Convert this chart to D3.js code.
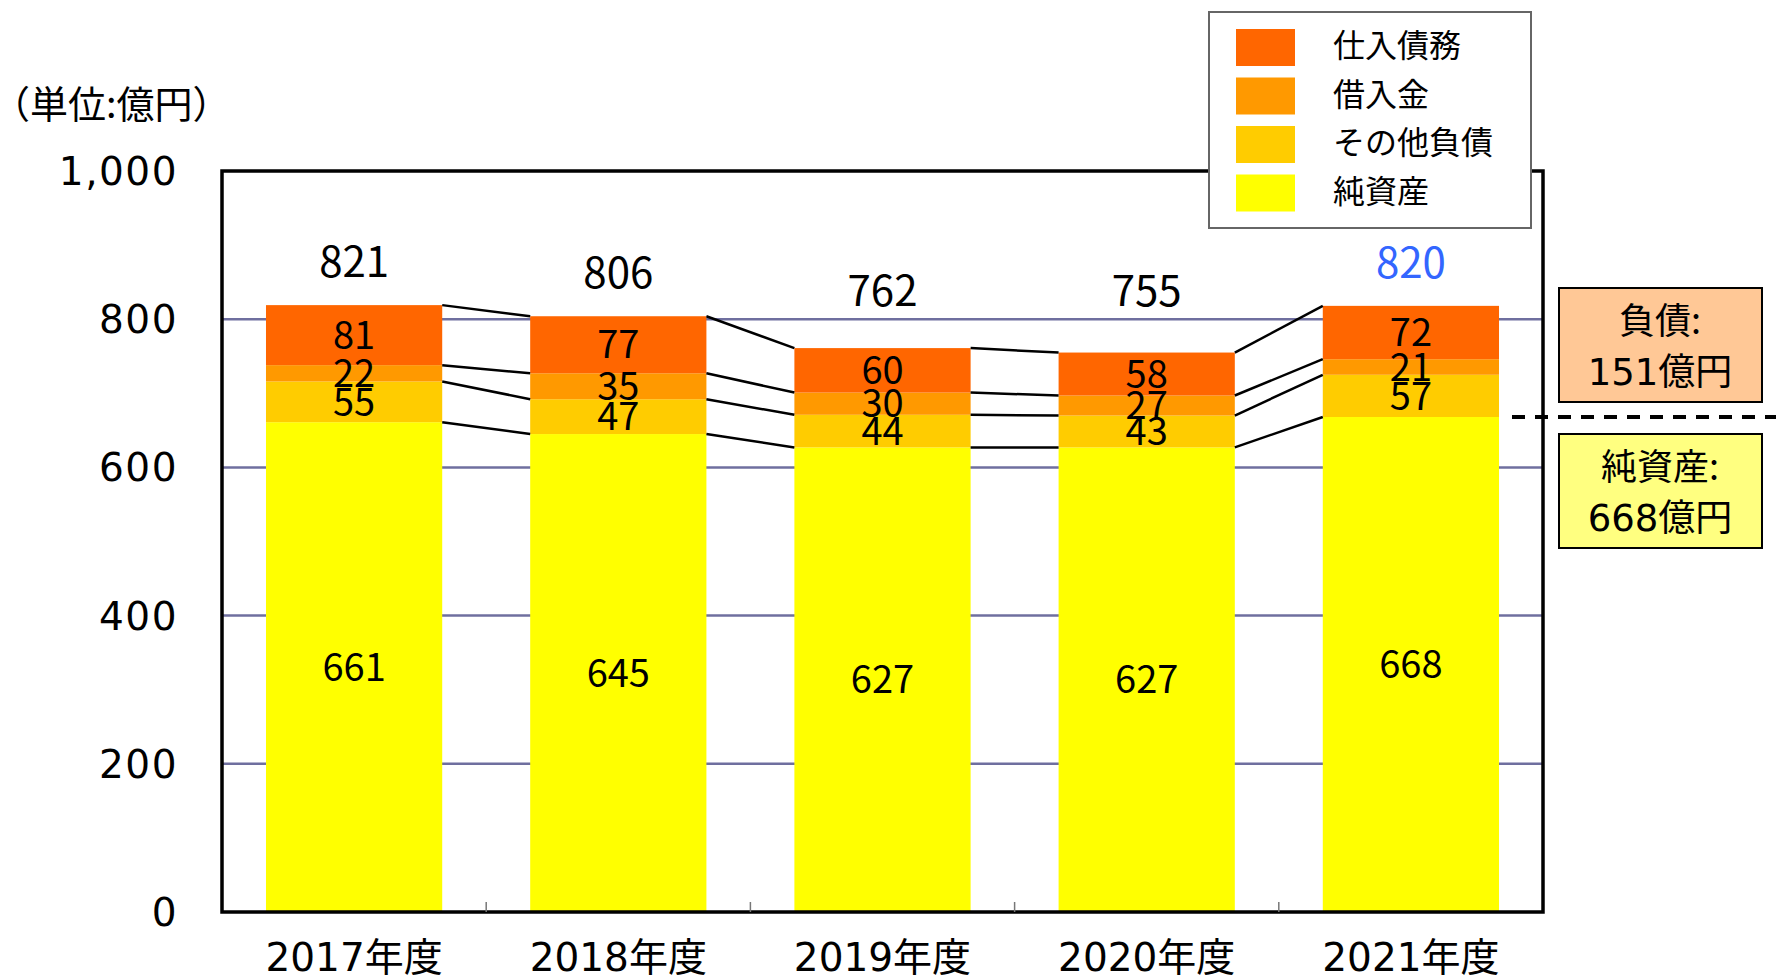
<!DOCTYPE html>
<html lang="ja">
<head>
<meta charset="utf-8">
<title>負債・純資産の推移</title>
<script src="https://cdn.jsdelivr.net/npm/d3@7/dist/d3.min.js"></script>
<style>
  body { margin: 0; background: #fff; }
  svg text { font-family: "Noto Sans CJK JP", "Noto Sans", sans-serif; fill: #000; }
  svg text.wide { font-family: "DejaVu Sans", "Noto Sans CJK JP", sans-serif; }
</style>
</head>
<body>
<svg id="chart"></svg>
<script>
// data
const years = ["2017年度", "2018年度", "2019年度", "2020年度", "2021年度"];
const seriesNames = ["純資産", "その他負債", "借入金", "仕入債務"];   // bottom -> top
const netAssets = [661, 645, 627, 627, 668];
const otherDebt = [55, 47, 44, 43, 57];
const loans = [22, 35, 30, 27, 21];
const payables = [81, 77, 60, 58, 72];
const totals = [821, 806, 762, 755, 820];
const yTicks = [0, 200, 400, 600, 800, 1000];
const legendOrder = ["仕入債務", "借入金", "その他負債", "純資産"];
const debtNote = ["負債:", "151億円"];
const assetNote = ["純資産:", "668億円"];
const assetLine = 668;

const colors = {
  "仕入債務": "#ff6600",
  "借入金": "#ff9900",
  "その他負債": "#ffcc00",
  "純資産": "#ffff00"
};

const W = 1776, H = 977;
const m = { left: 222, right: 1543, top: 171, bottom: 912 };

const svg = d3.select("#chart").attr("width", W).attr("height", H);

const x = d3.scaleBand().domain(years).range([m.left, m.right]).paddingInner(0.333).paddingOuter(0.1665);
const y = d3.scaleLinear().domain([0, 1000]).range([m.bottom, m.top]);

const rows = years.map((yr, i) => ({
  year: yr,
  "純資産": netAssets[i],
  "その他負債": otherDebt[i],
  "借入金": loans[i],
  "仕入債務": payables[i],
  total: totals[i]
}));
const stacked = d3.stack().keys(seriesNames)(rows);

// gridlines
svg.append("g").selectAll("line")
  .data(yTicks.filter(t => t > 0 && t < 1000))
  .enter().append("line")
  .attr("x1", m.left).attr("x2", m.right)
  .attr("y1", d => y(d)).attr("y2", d => y(d))
  .attr("stroke", "#6f6f9f").attr("stroke-width", 2.5);

// y tick labels
svg.append("g").selectAll("text")
  .data(yTicks)
  .enter().append("text")
  .attr("class", "wide")
  .attr("x", 178).attr("y", d => y(d))
  .attr("dy", "0.36em")
  .attr("text-anchor", "end")
  .style("font-size", "39px")
  .style("letter-spacing", "1.5px")
  .text(d => d3.format(",")(d));

// bars
svg.append("g").selectAll("g")
  .data(stacked)
  .enter().append("g")
  .attr("fill", d => colors[d.key])
  .selectAll("rect")
  .data(d => d)
  .enter().append("rect")
  .attr("x", d => x(d.data.year))
  .attr("width", x.bandwidth())
  .attr("y", d => y(d[1]))
  .attr("height", d => y(d[0]) - y(d[1]));

// connector lines between bars
const links = [];
stacked.forEach(s => {
  for (let i = 0; i < years.length - 1; i++) {
    links.push({ a: s[i], b: s[i + 1], i: i });
  }
});
svg.append("g").selectAll("line")
  .data(links)
  .enter().append("line")
  .attr("x1", d => x(years[d.i]) + x.bandwidth())
  .attr("x2", d => x(years[d.i + 1]))
  .attr("y1", d => y(d.a[1]))
  .attr("y2", d => y(d.b[1]))
  .attr("stroke", "#000").attr("stroke-width", 2.5);

// segment labels
stacked.forEach(s => {
  svg.append("g").selectAll("text")
    .data(s)
    .enter().append("text")
    .attr("x", d => x(d.data.year) + x.bandwidth() / 2)
    .attr("y", d => y((d[0] + d[1]) / 2))
    .attr("dy", "0.36em")
    .attr("text-anchor", "middle")
    .style("font-size", "38px")
    .text(d => d[1] - d[0]);
});

// total labels (lower bars keep their label at a common height)
svg.append("g").selectAll("text")
  .data(rows)
  .enter().append("text")
  .attr("x", d => x(d.year) + x.bandwidth() / 2)
  .attr("y", (d, i) => Math.min(y(stacked[3][i][1]), y(780)) - 43)
  .attr("dy", "0.36em")
  .attr("text-anchor", "middle")
  .style("font-size", "42px")
  .style("fill", (d, i) => i === years.length - 1 ? "#3366ff" : "#000")
  .text(d => d.total);

// frame
svg.append("rect")
  .attr("x", m.left).attr("y", m.top)
  .attr("width", m.right - m.left).attr("height", m.bottom - m.top)
  .attr("fill", "none").attr("stroke", "#000").attr("stroke-width", 3.5);

// small ticks at category boundaries
svg.append("g").selectAll("line")
  .data(years.slice(1))
  .enter().append("line")
  .attr("x1", d => x(d) - x.step() * x.paddingInner() / 2)
  .attr("x2", d => x(d) - x.step() * x.paddingInner() / 2)
  .attr("y1", m.bottom).attr("y2", m.bottom - 10)
  .attr("stroke", "#777").attr("stroke-width", 1.5);

// category labels
svg.append("g").selectAll("text")
  .data(years)
  .enter().append("text")
  .attr("class", "wide")
  .attr("x", d => x(d) + x.bandwidth() / 2)
  .attr("y", 957)
  .attr("dy", "0.36em")
  .attr("text-anchor", "middle")
  .style("font-size", "39px")
  .text(d => d);

// unit label
svg.append("text")
  .attr("x", -8).attr("y", 104)
  .attr("dy", "0.36em")
  .style("font-size", "38px")
  .text("（単位:億円）");

// legend
const lg = svg.append("g");
lg.append("rect")
  .attr("x", 1209).attr("y", 12).attr("width", 322).attr("height", 216)
  .attr("fill", "#fff").attr("stroke", "#666").attr("stroke-width", 2);
legendOrder.forEach((k, i) => {
  lg.append("rect")
    .attr("x", 1236).attr("y", 29 + i * 48.5)
    .attr("width", 59).attr("height", 37)
    .attr("fill", colors[k]);
  lg.append("text")
    .attr("x", 1333).attr("y", 45.5 + i * 48.5)
    .attr("dy", "0.36em")
    .style("font-size", "32px")
    .text(k);
});

// dashed line at net assets level
svg.append("line")
  .attr("x1", 1512).attr("x2", W)
  .attr("y1", y(assetLine)).attr("y2", y(assetLine))
  .attr("stroke", "#000").attr("stroke-width", 4)
  .attr("stroke-dasharray", "13,10");

// note boxes
function noteBox(lines, top, fill) {
  svg.append("rect")
    .attr("x", 1559).attr("y", top).attr("width", 203).attr("height", 114)
    .attr("fill", fill).attr("stroke", "#000").attr("stroke-width", 2);
  lines.forEach((t, i) => {
    svg.append("text")
      .attr("class", i === 1 ? "wide" : null)
      .attr("x", 1660).attr("y", top + 33 + i * 51)
      .attr("dy", "0.36em")
      .attr("text-anchor", "middle")
      .style("font-size", i === 1 ? "37px" : "36px")
      .text(t);
  });
}
noteBox(debtNote, 288, "#ffc896");
noteBox(assetNote, 434, "#ffff80");
</script>
</body>
</html>
